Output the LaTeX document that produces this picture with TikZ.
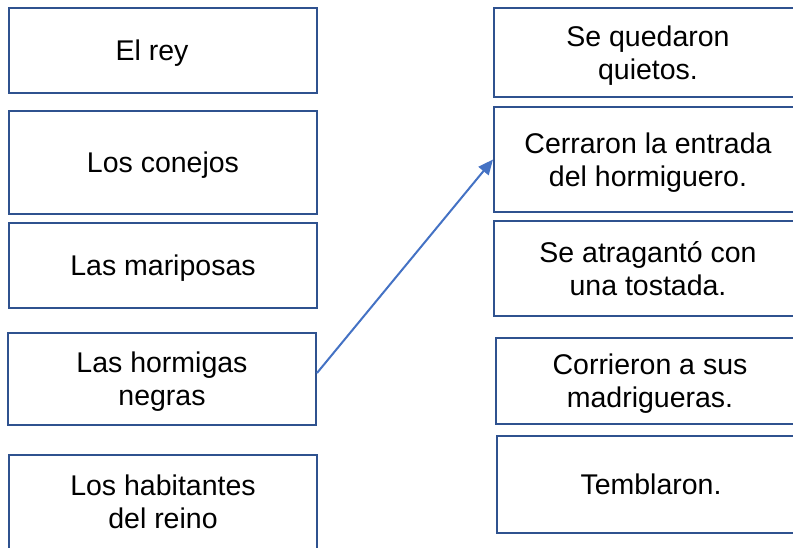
\documentclass[tikz,border=0pt]{standalone}
\usepackage{fontspec}
\setmainfont{Liberation Sans}
\usepackage{xcolor}
\usetikzlibrary{arrows.meta}
\definecolor{borde}{HTML}{2F528F}
\definecolor{flecha}{HTML}{4472C4}

\begin{document}
\begin{tikzpicture}[x=1pt,y=-1pt,
		caja/.style={draw=borde,line width=2pt,minimum width=308pt,align=center,inner sep=0pt,text depth=0pt,font=\fontsize{28.5}{33}\selectfont}]
			\useasboundingbox (0,0) rectangle (793,547);
			% izquierda
			\node[caja,minimum height=85pt] (rey) at (163,50.5){El rey\hspace*{22pt}};
			\node[caja,minimum height=103pt] (conejos) at (163,162.5){Los conejos};
			\node[caja,minimum height=85pt] (mariposas) at (163,265.5){Las mariposas};
			\node[caja,minimum height=92pt] (hormigas) at (162,379){Las hormigas\\negras};
			\node[caja,minimum height=94pt] (habitantes) at (163,502){Los habitantes\\del reino};
			% derecha
			\node[caja,minimum height=89pt] (quietos) at (648,52.5){Se quedaron\\quietos.};
			\node[caja,minimum height=105pt] (hormiguero) at (648,159.5){Cerraron la entrada\\del hormiguero.};
			\node[caja,minimum height=95pt] (tostada) at (648,268.5){Se atragantó con\\una tostada.};
			\node[caja,minimum height=86pt] (madrigueras) at (650,381){Corrieron a sus\\madrigueras.};
			\node[caja,minimum height=97pt] (temblaron) at (651,484.5){Temblaron.};
			
			\draw[-{Triangle[length=15pt,width=13pt]},flecha,line width=2pt]
			([yshift=6pt]hormigas.east) -- (hormiguero.west);
		
		\end{tikzpicture}
\end{document}
